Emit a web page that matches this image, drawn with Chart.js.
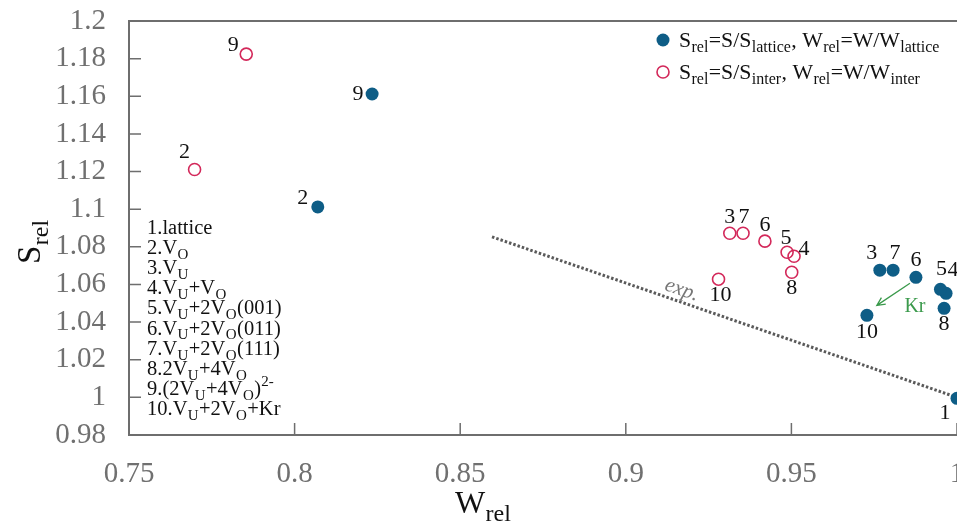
<!DOCTYPE html>
<html>
<head>
<meta charset="utf-8">
<script src="https://cdn.jsdelivr.net/npm/chart.js@4/dist/chart.umd.min.js"></script>
<style>
html, body { margin: 0; padding: 0; background: #fff; overflow: hidden; }
#wrap { width: 1000px; height: 524px; }
</style>
</head>
<body>
<div id="wrap"><canvas id="chart" width="1000" height="524"></canvas></div>
<script>
// lattice-referenced set (filled), ids 1..10
const latticeIds = ['1', '2', '3', '4', '5', '6', '7', '8', '9', '10'];
const latticeW = [1.000, 0.807, 0.9767, 0.9967, 0.9950, 0.9876, 0.9807, 0.9961, 0.8234, 0.9728];
const latticeS = [0.9995, 1.1012, 1.0676, 1.0553, 1.0574, 1.0638, 1.0676, 1.0473, 1.1612, 1.0436];

// interstitial-referenced set (open), ids 2..10
const interIds = ['2', '3', '4', '5', '6', '7', '8', '9', '10'];
const interW = [0.7698, 0.9314, 0.9508, 0.9487, 0.9420, 0.9354, 0.9501, 0.7854, 0.9280];
const interS = [1.1211, 1.0872, 1.0750, 1.0771, 1.0830, 1.0872, 1.0665, 1.1824, 1.0628];

// experimental trend line and Kr arrow
const expW = [0.8596, 1.0];
const expS = [1.0853, 1.0];
const krW = [0.9858, 0.9758];
const krS = [1.0606, 1.0489];

const xTicks = [0.75, 0.8, 0.85, 0.9, 0.95, 1];
const yTicks = [0.98, 1, 1.02, 1.04, 1.06, 1.08, 1.1, 1.12, 1.14, 1.16, 1.18, 1.2];

// label offsets in px (style only)
const latticeOffsets = [[-12, 15], [-15, -9], [-8, -17], [7, -23], [1, -20], [0, -17], [2, -17], [0, 16], [-14, 0], [0, 17]];
const interOffsets = [[-10, -17], [0, -16], [10, -7], [-1, -14], [0, -16], [1, -16], [0, 16], [-13, -9], [2, 16]];

const structList = [
    [['1.lattice']],
    [['2.V'], ['O', 'sub']],
    [['3.V'], ['U', 'sub']],
    [['4.V'], ['U', 'sub'], ['+V'], ['O', 'sub']],
    [['5.V'], ['U', 'sub'], ['+2V'], ['O', 'sub'], ['(001)']],
    [['6.V'], ['U', 'sub'], ['+2V'], ['O', 'sub'], ['(011)']],
    [['7.V'], ['U', 'sub'], ['+2V'], ['O', 'sub'], ['(111)']],
    [['8.2V'], ['U', 'sub'], ['+4V'], ['O', 'sub']],
    [['9.(2V'], ['U', 'sub'], ['+4V'], ['O', 'sub'], [')'], ['2-', 'sup']],
    [['10.V'], ['U', 'sub'], ['+2V'], ['O', 'sub'], ['+Kr']]
];

const legendRows = [
    [['S'], ['rel', 'sub'], ['=S/S'], ['lattice', 'sub'], [', W'], ['rel', 'sub'], ['=W/W'], ['lattice', 'sub']],
    [['S'], ['rel', 'sub'], ['=S/S'], ['inter', 'sub'], [', W'], ['rel', 'sub'], ['=W/W'], ['inter', 'sub']]
];

const FONT = '"Liberation Serif", "DejaVu Serif", serif';
const BLUE = '#0e5d86';
const RED = '#d3285a';
const AXIS = '#6e6e6e';

function drawRich(ctx, parts, x, y, base) {
    let cx = x;
    parts.forEach(function (p) {
        const kind = p[1];
        const size = kind ? Math.round(base * 0.74) : base;
        ctx.font = size + 'px ' + FONT;
        let dy = 0;
        if (kind === 'sub') dy = base * 0.24;
        if (kind === 'sup') dy = -base * 0.45;
        ctx.fillText(p[0], cx, y + dy);
        cx += ctx.measureText(p[0]).width + 0.4;
    });
    return cx - x;
}

function fmt(v) {
    return String(Number(v.toFixed(2)));
}

const decorPlugin = {
    id: 'decor',
    afterDraw(chart) {
        const ctx = chart.ctx;
        const area = chart.chartArea;
        const xs = chart.scales.x;
        const ys = chart.scales.y;
        ctx.save();

        // top frame line
        ctx.strokeStyle = AXIS;
        ctx.lineWidth = 2;
        ctx.beginPath();
        ctx.moveTo(area.left, area.top);
        ctx.lineTo(area.right, area.top);
        ctx.stroke();

        // inward tick marks
        ctx.lineWidth = 1.5;
        ctx.beginPath();
        ys.ticks.forEach(function (t) {
            const py = ys.getPixelForValue(t.value);
            ctx.moveTo(area.left, py);
            ctx.lineTo(area.left + 12, py);
        });
        xs.ticks.forEach(function (t) {
            const px = xs.getPixelForValue(t.value);
            ctx.moveTo(px, area.bottom);
            ctx.lineTo(px, area.bottom - 12);
        });
        ctx.stroke();

        // point labels
        ctx.fillStyle = '#111';
        ctx.font = '22px ' + FONT;
        ctx.textAlign = 'center';
        ctx.textBaseline = 'middle';
        latticeIds.forEach(function (id, i) {
            const px = xs.getPixelForValue(latticeW[i]) + latticeOffsets[i][0];
            const py = ys.getPixelForValue(latticeS[i]) + latticeOffsets[i][1];
            ctx.fillText(id, px, py);
        });
        interIds.forEach(function (id, i) {
            const px = xs.getPixelForValue(interW[i]) + interOffsets[i][0];
            const py = ys.getPixelForValue(interS[i]) + interOffsets[i][1];
            ctx.fillText(id, px, py);
        });

        // "exp." label along the trend line
        const x0 = xs.getPixelForValue(expW[0]), y0 = ys.getPixelForValue(expS[0]);
        const x1 = xs.getPixelForValue(expW[1]), y1 = ys.getPixelForValue(expS[1]);
        const ang = Math.atan2(y1 - y0, x1 - x0);
        const f = 0.40;
        ctx.save();
        ctx.translate(x0 + (x1 - x0) * f, y0 + (y1 - y0) * f);
        ctx.rotate(ang);
        ctx.fillStyle = '#777';
        ctx.font = 'italic 21px ' + FONT;
        ctx.textBaseline = 'alphabetic';
        ctx.fillText('exp.', 0, -6);
        ctx.restore();

        // Kr arrow
        const ax0 = xs.getPixelForValue(krW[0]), ay0 = ys.getPixelForValue(krS[0]);
        const ax1 = xs.getPixelForValue(krW[1]), ay1 = ys.getPixelForValue(krS[1]);
        const a = Math.atan2(ay1 - ay0, ax1 - ax0);
        ctx.strokeStyle = '#3b9a4c';
        ctx.lineWidth = 1.3;
        ctx.beginPath();
        ctx.moveTo(ax0, ay0);
        ctx.lineTo(ax1, ay1);
        ctx.moveTo(ax1 - 9 * Math.cos(a - 0.45), ay1 - 9 * Math.sin(a - 0.45));
        ctx.lineTo(ax1, ay1);
        ctx.lineTo(ax1 - 9 * Math.cos(a + 0.45), ay1 - 9 * Math.sin(a + 0.45));
        ctx.stroke();
        ctx.fillStyle = '#3b9a4c';
        ctx.font = '20px ' + FONT;
        ctx.fillText('Kr', ax0 + 5, ay0 + 23);

        // structure list
        ctx.textAlign = 'left';
        ctx.textBaseline = 'alphabetic';
        ctx.fillStyle = '#111';
        structList.forEach(function (parts, i) {
            drawRich(ctx, parts, 147, 234 + i * 20.1, 20.5);
        });

        // legend
        ctx.fillStyle = BLUE;
        ctx.beginPath();
        ctx.arc(663, 40, 6.5, 0, Math.PI * 2);
        ctx.fill();
        ctx.strokeStyle = RED;
        ctx.lineWidth = 1.6;
        ctx.beginPath();
        ctx.arc(663, 72, 6, 0, Math.PI * 2);
        ctx.stroke();
        ctx.fillStyle = '#111';
        drawRich(ctx, legendRows[0], 679, 47, 21.8);
        drawRich(ctx, legendRows[1], 679, 79, 21.8);

        // axis titles
        ctx.fillStyle = '#111';
        drawRich(ctx, [['W'], ['rel', 'sub']], 455, 513, 32);
        ctx.save();
        ctx.translate(40, 264);
        ctx.rotate(-Math.PI / 2);
        drawRich(ctx, [['S'], ['rel', 'sub']], 0, 0, 33);
        ctx.restore();

        ctx.restore();
    }
};

new Chart(document.getElementById('chart'), {
    type: 'scatter',
    data: {
        datasets: [
            {
                label: 'lattice',
                data: latticeW.map(function (w, i) { return { x: w, y: latticeS[i] }; }),
                pointRadius: 6.5,
                pointBackgroundColor: BLUE,
                pointBorderColor: BLUE,
                pointBorderWidth: 0,
                order: 1
            },
            {
                label: 'inter',
                data: interW.map(function (w, i) { return { x: w, y: interS[i] }; }),
                pointRadius: 6,
                pointBackgroundColor: 'rgba(0,0,0,0)',
                pointBorderColor: RED,
                pointBorderWidth: 1.6,
                order: 2
            },
            {
                label: 'exp.',
                data: expW.map(function (w, i) { return { x: w, y: expS[i] }; }),
                showLine: true,
                pointRadius: 0,
                borderColor: '#5a5a5a',
                borderWidth: 3,
                borderDash: [2.5, 2],
                order: 3
            }
        ]
    },
    options: {
        responsive: false,
        animation: false,
        clip: false,
        layout: { padding: { top: 21, right: 43, bottom: 0, left: 0 } },
        plugins: {
            legend: { display: false },
            tooltip: { enabled: false }
        },
        scales: {
            x: {
                type: 'linear',
                min: 0.75,
                max: 1,
                afterBuildTicks: function (scale) {
                    scale.ticks = xTicks.map(function (v) { return { value: v }; });
                },
                afterFit: function (scale) {
                    scale.height = 89;
                    scale.paddingLeft = 0;
                    scale.paddingRight = 0;
                },
                grid: { display: false, drawTicks: false },
                border: { display: true, color: AXIS, width: 2 },
                ticks: {
                    padding: 22,
                    autoSkip: false,
                    color: '#707070',
                    font: { family: FONT, size: 29 },
                    maxRotation: 0,
                    callback: function (v) { return fmt(v); }
                }
            },
            y: {
                type: 'linear',
                min: 0.98,
                max: 1.2,
                afterBuildTicks: function (scale) {
                    scale.ticks = yTicks.map(function (v) { return { value: v }; });
                },
                afterFit: function (scale) {
                    scale.width = 129;
                    scale.paddingTop = 0;
                    scale.paddingBottom = 0;
                },
                grid: { display: false, drawTicks: false },
                border: { display: true, color: AXIS, width: 2 },
                ticks: {
                    padding: 23,
                    autoSkip: false,
                    color: '#707070',
                    font: { family: FONT, size: 29 },
                    callback: function (v) { return fmt(v); }
                }
            }
        }
    },
    plugins: [decorPlugin]
});
</script>
</body>
</html>
